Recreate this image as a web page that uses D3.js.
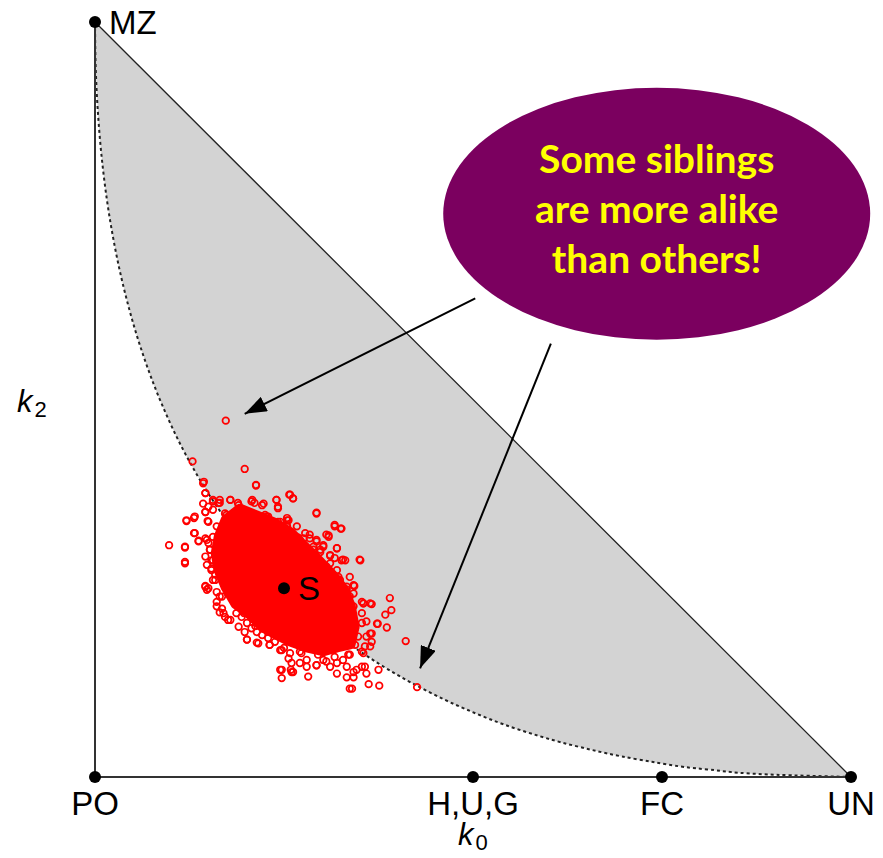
<!DOCTYPE html>
<html>
<head>
<meta charset="utf-8">
<script src="https://cdn.jsdelivr.net/npm/d3@7"></script>
<style>
html,body{margin:0;padding:0;background:#fff;}
svg{display:block;}
</style>
</head>
<body>
<svg id="chart" width="883" height="858"></svg>
<script>
// ---------- data ----------
const refNames = ["PO", "H,U,G", "FC", "UN", "MZ", "S"];
const refK0 = [0, 0.5, 0.75, 1, 0, 0.25];
const refK2 = [0, 0, 0, 0, 1, 0.25];

// boundary of feasible region (k1^2 = 4 k0 k2)
const boundaryK0 = [0, 0.001, 0.004, 0.01, 0.02, 0.04, 0.06, 0.09, 0.12, 0.16, 0.2, 0.25, 0.3, 0.36, 0.42, 0.49, 0.56, 0.64, 0.72, 0.81, 0.9, 1];
const boundaryK2 = [1, 0.938, 0.878, 0.81, 0.737, 0.64, 0.57, 0.49, 0.427, 0.36, 0.306, 0.25, 0.205, 0.16, 0.124, 0.09, 0.063, 0.04, 0.023, 0.01, 0.003, 0];

// dense core of the simulated sibling cloud (outline of fully overlapping points)
const coreK0 = [0.165,0.174,0.192,0.214,0.236,0.258,0.276,0.298,0.315,0.328,0.337,0.342,0.337,0.320,0.302,0.280,0.258,0.240,0.223,0.205,0.187,0.174,0.165,0.161];
const coreK2 = [0.318,0.340,0.354,0.345,0.336,0.323,0.305,0.283,0.265,0.248,0.226,0.199,0.177,0.173,0.168,0.173,0.181,0.190,0.199,0.217,0.230,0.252,0.274,0.296];

// individual simulated sibling pairs
const siblingK0 = [
0.129,0.198,0.144,0.213,0.146,0.257,0.262,0.240,0.242,0.293,0.121,0.131,0.317,0.325,0.098,0.119,0.119,0.320,0.350,0.328,
0.311,0.390,0.343,0.355,0.364,0.392,0.384,0.374,0.386,0.411,0.426,0.375,0.362,0.376,0.337,0.340,0.333,0.342,0.247,0.247,
0.282,0.201,0.214,0.146,0.150,0.172,0.173,
0.179,0.189,0.208,0.211,0.223,0.143,0.150,0.156,0.163,0.165,0.146,0.156,0.174,0.149,0.229,0.242,0.254,0.131,0.137,0.146,
0.150,0.156,0.146,0.152,0.154,0.148,0.154,0.159,0.156,0.161,0.165,0.172,0.176,0.168,0.185,0.192,0.187,0.194,0.201,0.207,
0.214,0.221,0.231,0.238,0.247,0.256,0.260,0.259,0.161,0.168,0.342,0.353,0.359,0.364,0.366,0.357,0.348,0.353,0.357,0.346,
0.311,0.320,0.262,0.271,0.280,0.293,0.302,0.328,0.337,0.324,0.333,0.337,0.309,0.284,0.293,0.276,0.269,0.302,0.298,0.289,
0.317,0.326,0.256,0.254,0.306,0.313,0.322,
0.172,0.185,0.205,0.225,0.249,0.271,0.291,0.308,0.324,0.335,0.344,0.344,0.335,0.317,0.295,0.271,0.250,0.229,0.212,0.197,
0.183,0.172,0.163,0.161,
0.143,0.146,0.156,0.165,0.179,0.190,0.207,0.221,0.240,0.242,0.258,0.262,0.213,0.293,0.146,0.132,0.121,0.150,0.161,0.172,
0.187,0.198,0.227,0.245,0.254,0.132,0.137,0.119,0.119,0.148,0.152,0.156,0.154,0.159,0.146,0.148,0.165,0.161,0.170,0.179,
0.190,0.198,0.201,0.216,0.231,0.245,0.258,0.273,0.245,0.260,0.280,0.293,0.306,0.320,0.333,0.342,0.353,0.359,0.355,0.364,
0.359,0.366,0.353,0.373,0.353,0.342,0.355,0.366,0.342,0.333,0.324,0.337,0.320,0.311,0.331,0.351,0.320,0.311,0.298,0.289,
0.302,0.293,0.317,0.326,0.306,0.309,0.284,0.278,0.267,0.254
];
const siblingK2 = [
0.418,0.408,0.391,0.386,0.376,0.374,0.369,0.367,0.356,0.350,0.339,0.343,0.332,0.329,0.307,0.304,0.283,0.303,0.288,0.288,
0.293,0.237,0.253,0.230,0.230,0.221,0.215,0.203,0.198,0.180,0.119,0.142,0.123,0.121,0.117,0.117,0.132,0.132,0.142,0.131,
0.133,0.182,0.178,0.253,0.250,0.265,0.472,
0.367,0.363,0.367,0.363,0.362,0.362,0.358,0.367,0.363,0.367,0.351,0.354,0.347,0.339,0.345,0.338,0.340,0.323,0.313,0.316,
0.310,0.318,0.292,0.301,0.287,0.281,0.276,0.268,0.261,0.245,0.218,0.212,0.208,0.223,0.232,0.226,0.217,0.212,0.204,0.197,
0.192,0.188,0.175,0.179,0.168,0.157,0.151,0.142,0.232,0.239,0.254,0.232,0.206,0.190,0.179,0.173,0.186,0.166,0.146,0.142,
0.146,0.137,0.139,0.151,0.155,0.148,0.155,0.155,0.162,0.257,0.248,0.239,0.320,0.321,0.314,0.316,0.317,0.305,0.301,0.301,
0.290,0.287,0.340,0.332,0.279,0.270,0.265,
0.327,0.338,0.346,0.347,0.327,0.314,0.294,0.274,0.248,0.221,0.197,0.175,0.162,0.159,0.162,0.166,0.171,0.184,0.200,0.217,
0.237,0.257,0.281,0.303,
0.389,0.376,0.365,0.363,0.367,0.360,0.365,0.360,0.367,0.358,0.374,0.369,0.387,0.349,0.351,0.345,0.340,0.338,0.332,0.349,
0.349,0.336,0.345,0.338,0.343,0.323,0.312,0.305,0.285,0.314,0.301,0.287,0.274,0.261,0.252,0.248,0.239,0.226,0.217,0.208,
0.199,0.192,0.182,0.177,0.175,0.168,0.164,0.164,0.142,0.139,0.146,0.148,0.153,0.151,0.146,0.139,0.146,0.137,0.164,0.173,
0.186,0.190,0.204,0.203,0.217,0.226,0.230,0.229,0.243,0.252,0.261,0.265,0.274,0.283,0.287,0.287,0.303,0.294,0.298,0.305,
0.307,0.312,0.334,0.329,0.321,0.318,0.316,0.323,0.332,0.332
];

// callout annotation (in k0/k2 units)
const calloutLines = ["Some siblings", "are more alike", "than others!"];
const calloutCenter = [0.743, 0.746];
const calloutRadii = [0.2824, 0.1669];
const arrowFrom = [[0.503, 0.634], [0.603, 0.574]];
const arrowTo = [[0.198, 0.481], [0.430, 0.144]];

// ---------- drawing ----------
const svg = d3.select("#chart");
const x = d3.scaleLinear().domain([0, 1]).range([95, 851]);
const y = d3.scaleLinear().domain([0, 1]).range([777, 22]);

// grey feasible region
const boundary = boundaryK0.map((k, i) => [k, boundaryK2[i]]);
const regionPts = [[1, 0]].concat(boundary.slice().reverse());
svg.append("path")
  .attr("d", d3.line().x(d => x(d[0])).y(d => y(d[1])).curve(d3.curveMonotoneY)(regionPts) + "L" + x(0) + "," + y(1) + "Z")
  .attr("fill", "#d3d3d3").attr("stroke", "none");

// dotted boundary curve
svg.append("path")
  .attr("d", d3.line().x(d => x(d[0])).y(d => y(d[1])).curve(d3.curveMonotoneY)(boundary))
  .attr("fill", "none").attr("stroke", "#222").attr("stroke-width", 2)
  .attr("stroke-dasharray", "3,3");

// MZ - UN line
svg.append("line")
  .attr("x1", x(0)).attr("y1", y(1)).attr("x2", x(1)).attr("y2", y(0))
  .attr("stroke", "#222").attr("stroke-width", 1.3);

// axes (PO-MZ and PO-UN)
svg.append("line").attr("x1", x(0)).attr("y1", y(0)).attr("x2", x(0)).attr("y2", y(1))
  .attr("stroke", "#333").attr("stroke-width", 2);
svg.append("line").attr("x1", x(0)).attr("y1", y(0)).attr("x2", x(1)).attr("y2", y(0))
  .attr("stroke", "#333").attr("stroke-width", 2);

// dense core
const core = coreK0.map((k, i) => [k, coreK2[i]]);
svg.append("path")
  .attr("d", d3.line().x(d => x(d[0])).y(d => y(d[1])).curve(d3.curveLinearClosed)(core))
  .attr("fill", "#ff0000").attr("stroke", "#ff0000").attr("stroke-width", 12)
  .attr("stroke-linejoin", "round");

// individual points
svg.append("g").selectAll("circle")
  .data(siblingK0.map((k, i) => [k, siblingK2[i]]))
  .join("circle")
  .attr("cx", d => x(d[0])).attr("cy", d => y(d[1])).attr("r", 3.3)
  .attr("fill", "none").attr("stroke", "#ff0000").attr("stroke-width", 1.7);

// reference points
const refs = refNames.map((n, i) => ({name: n, k0: refK0[i], k2: refK2[i]}));
svg.append("g").selectAll("circle")
  .data(refs).join("circle")
  .attr("cx", d => x(d.k0)).attr("cy", d => y(d.k2)).attr("r", 6)
  .attr("fill", "#000");

const fontMain = "'Liberation Sans', Arial, sans-serif";
// labels on k0 axis
svg.append("g").selectAll("text")
  .data(refs.filter(d => d.k2 === 0)).join("text")
  .attr("x", d => x(d.k0)).attr("y", 815)
  .attr("text-anchor", "middle")
  .attr("font-family", fontMain).attr("font-size", 33).attr("fill", "#000")
  .text(d => d.name);
// MZ and S labels
svg.append("g").selectAll("text")
  .data(refs.filter(d => d.name === "MZ" || d.name === "S")).join("text")
  .attr("x", d => x(d.k0) + 14).attr("y", d => y(d.k2) + 12)
  .attr("font-family", fontMain).attr("font-size", 33).attr("fill", "#000")
  .text(d => d.name);

// axis titles
function axisTitle(px, py, sub) {
  const t = svg.append("text").attr("x", px).attr("y", py)
    .attr("font-family", fontMain).attr("font-size", 31).attr("fill", "#000");
  t.append("tspan").attr("font-style", "italic").text("k");
  t.append("tspan").attr("font-size", 22).attr("dy", 5).attr("dx", 2).text(sub);
}
axisTitle(17, 412, "2");
axisTitle(458, 845, "0");

// callout
svg.append("ellipse")
  .attr("cx", x(calloutCenter[0])).attr("cy", y(calloutCenter[1]))
  .attr("rx", x(calloutRadii[0]) - x(0)).attr("ry", y(0) - y(calloutRadii[1]))
  .attr("fill", "#7b005f");
svg.append("g").selectAll("text")
  .data(calloutLines).join("text")
  .attr("x", x(calloutCenter[0]))
  .attr("y", (d, i) => 173 + i * 50)
  .attr("text-anchor", "middle")
  .attr("font-family", "Lato, 'Open Sans', sans-serif").attr("font-weight", "bold")
  .attr("font-size", 39).attr("fill", "#ffff00")
  .text(d => d);

// arrows
const defs = svg.append("defs");
defs.append("marker").attr("id", "ah").attr("viewBox", "0 0 22 16")
  .attr("refX", 22).attr("refY", 8).attr("markerWidth", 22).attr("markerHeight", 16)
  .attr("markerUnits", "userSpaceOnUse").attr("orient", "auto")
  .append("path").attr("d", "M0,0 L22,8 L0,16 Z").attr("fill", "#000");
arrowFrom.forEach((f, i) => {
  svg.append("line")
    .attr("x1", x(f[0])).attr("y1", y(f[1]))
    .attr("x2", x(arrowTo[i][0])).attr("y2", y(arrowTo[i][1]))
    .attr("stroke", "#000").attr("stroke-width", 2)
    .attr("marker-end", "url(#ah)");
});
</script>
</body>
</html>
